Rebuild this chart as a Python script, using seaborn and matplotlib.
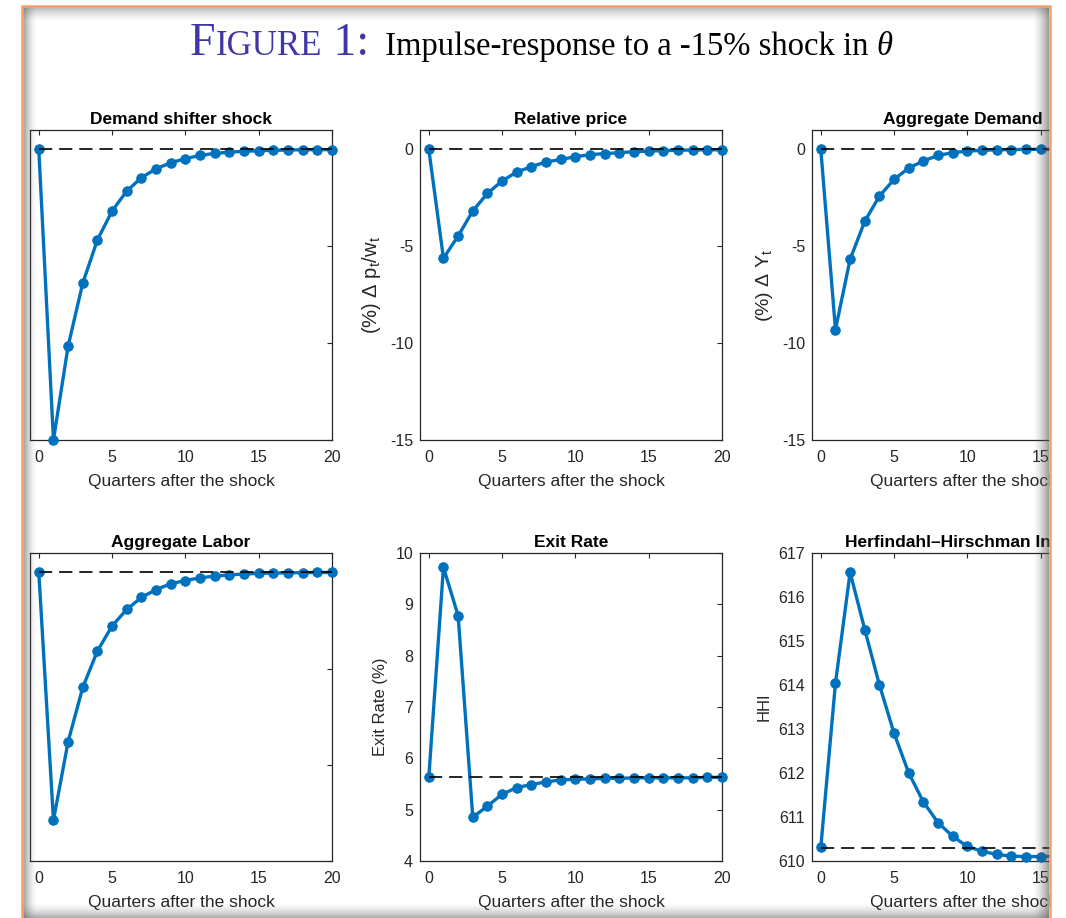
import numpy as np
import pandas as pd
import matplotlib
matplotlib.use('Agg')
import matplotlib.pyplot as plt
import seaborn as sns

quarters = list(range(21))

demand_shifter = [0.0, -15.0, -10.15, -6.9, -4.67, -3.18, -2.15, -1.46, -1.0, -0.69, -0.48,
                  -0.31, -0.21, -0.14, -0.1, -0.07, -0.05, -0.03, -0.02, -0.015, -0.01]
relative_price = [0.0, -5.62, -4.47, -3.18, -2.27, -1.63, -1.17, -0.89, -0.65, -0.52, -0.38,
                  -0.27, -0.22, -0.17, -0.12, -0.09, -0.06, -0.05, -0.03, -0.02, -0.02]
aggregate_demand = [0.0, -9.3, -5.67, -3.71, -2.41, -1.55, -0.96, -0.6, -0.31, -0.17, -0.09,
                    -0.05, -0.02, -0.01, 0.0, 0.0, 0.0, 0.0, 0.0, 0.0, 0.0]
aggregate_labor = [0.0, -12.88, -8.8, -5.98, -4.09, -2.79, -1.93, -1.31, -0.9, -0.6, -0.43,
                   -0.29, -0.2, -0.14, -0.09, -0.06, -0.04, -0.03, -0.02, -0.01, -0.01]
exit_rate = [5.63, 9.72, 8.78, 4.85, 5.07, 5.30, 5.43, 5.49, 5.54, 5.58, 5.59,
             5.60, 5.61, 5.61, 5.62, 5.62, 5.62, 5.62, 5.62, 5.63, 5.63]
hhi = [610.31, 614.04, 616.56, 615.26, 614.0, 612.9, 612.0, 611.34, 610.87, 610.56, 610.33,
       610.22, 610.15, 610.11, 610.10, 610.10, 610.11, 610.12, 610.13, 610.14, 610.15]

titles = ['Demand shifter shock', 'Relative price', 'Aggregate Demand',
          'Aggregate Labor', 'Exit Rate', 'Herfindahl\u2013Hirschman Index']
ylabels = ['', r'(%) $\Delta$ p$_{\rm t}$/w$_{\rm t}$', r'(%) $\Delta$ Y$_{\rm t}$',
           '', 'Exit Rate (%)', 'HHI']
ylabel_sizes = [12, 14.5, 14, 12, 12, 12]
series = [demand_shifter, relative_price, aggregate_demand, aggregate_labor, exit_rate, hhi]
steady = [0, 0, 0, 0, 5.63, 610.3]
ylims = [(-15, 1), (-15, 1), (-15, 1), (-15, 1), (4, 10), (610, 617)]
yticks = [[-15, -10, -5, 0]] * 4 + [[4, 5, 6, 7, 8, 9, 10], list(range(610, 618))]
show_ylab = [False, True, True, False, True, True]

sns.set_style('white')
plt.rcParams['font.family'] = ['Liberation Sans', 'DejaVu Sans']
plt.rcParams['mathtext.fontset'] = 'custom'
plt.rcParams['mathtext.rm'] = 'Liberation Sans'
plt.rcParams['mathtext.it'] = 'Liberation Sans:italic'
plt.rcParams['lines.scale_dashes'] = False
plt.rcParams['axes.unicode_minus'] = False

W, H = 1066, 918
fig = plt.figure(figsize=(W / 100, H / 100), dpi=100)
fig.patch.set_facecolor('white')

col_left = [30, 420, 812]
row_top = [130, 553]
row_h = [310, 308]
ax_w = 302
blue = '#0072BD'
ink = '#262626'

for i in range(6):
    r, c = divmod(i, 3)
    l, t, h = col_left[c], row_top[r], row_h[r]
    ax = fig.add_axes([l / W, 1 - (t + h) / H, ax_w / W, h / H])
    df = pd.DataFrame({'q': quarters, 'v': series[i]})
    sns.lineplot(data=df, x='q', y='v', ax=ax, color=blue, lw=2.4, marker='o',
                 markersize=6.8, markeredgecolor=blue, markerfacecolor=blue,
                 clip_on=False, zorder=3)
    ax.hlines(steady[i], quarters[0], quarters[-1], colors='black', lw=1.2,
              linestyles=(0, (9.5, 5)), zorder=4)
    ax.set_xlim(-0.6, 20)
    ax.set_ylim(*ylims[i])
    ax.set_xticks([0, 5, 10, 15, 20])
    ax.set_yticks(yticks[i])
    ax.tick_params(direction='in', length=3.5, width=0.8, top=True, right=True,
                   colors=ink, labelsize=11.5, pad=5)
    ax.tick_params(axis='x', pad=7.5)
    if not show_ylab[i]:
        ax.set_yticklabels([])
    for s in ax.spines.values():
        s.set_color(ink)
        s.set_linewidth(0.9)
    ax.set_xlabel('Quarters after the shock', fontsize=12.5, color=ink, labelpad=6)
    ax.set_ylabel(ylabels[i], fontsize=ylabel_sizes[i], color=ink, labelpad=5)
    ax.set_title(titles[i], fontsize=12.5, fontweight='bold', color='black', pad=4.5)

# frame of the page screenshot
ov = fig.add_axes([0, 0, 1, 1], zorder=10)
ov.set_xlim(0, W)
ov.set_ylim(H, 0)
ov.axis('off')
ov.patch.set_alpha(0)

def shade(x0, x1, y0, y1, horizontal, reverse, amax):
    n = 64
    a = np.linspace(amax, 0, n) ** 1.6 / amax ** 0.6
    if reverse:
        a = a[::-1]
    img = np.zeros((1, n, 4)) if horizontal else np.zeros((n, 1, 4))
    img[..., :3] = 0.35
    img[..., 3] = a.reshape(img.shape[:2])
    ov.imshow(img, extent=(x0, x1, y1, y0), aspect='auto', interpolation='bilinear', zorder=2)

shade(23, 37, 7, H, True, False, 0.6)
shade(23, 1049, 7, 22, False, False, 0.45)
shade(1032, 1049, 7, H, True, True, 0.6)
shade(23, 1049, 902, H, False, True, 0.5)

for rect in [(0, 0, 22, H), (1050, 0, 16, H), (0, 0, W, 6)]:
    ov.add_patch(plt.Rectangle(rect[:2], rect[2], rect[3], color='white', zorder=3))
orange = '#F2A066'
ov.plot([22, 22, 1050, 1050], [H, 6, 6, H], color=orange, lw=1.8, zorder=4,
        solid_joinstyle='miter')

# title with small caps label
fig.canvas.draw()
rend = fig.canvas.get_renderer()
purple = '#4136A8'
base = 55
x = 190
pieces = [('F', 33, purple, 'normal'), ('IGURE', 25, purple, 'normal'),
          (' 1:', 33, purple, 'normal'), ('  Impulse-response to a -15% shock in ', 23.5, 'black', 'normal'),
          ('\u03b8', 23.5, 'black', 'italic')]
for s, size, col, style in pieces:
    t = ov.text(x, base, s, fontsize=size, color=col, style=style, va='baseline',
                ha='left', family=['Liberation Serif', 'DejaVu Serif'], zorder=5)
    bb = t.get_window_extent(rend)
    x += bb.width

fig.savefig('out.png', dpi=100)
